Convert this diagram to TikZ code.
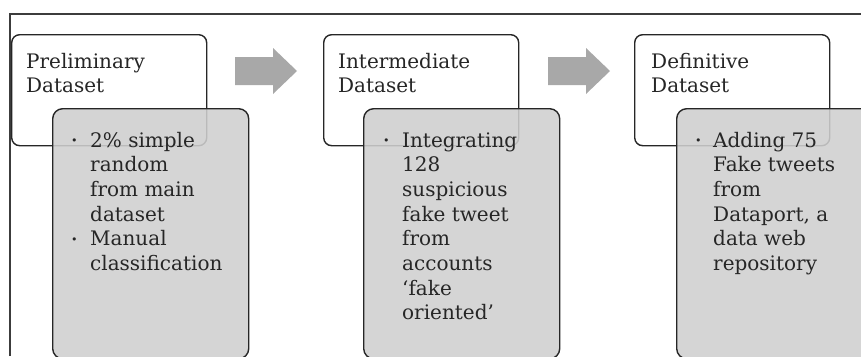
\documentclass[tikz,border=0pt]{standalone}
\usepackage{fontspec}
\setmainfont{DejaVu Serif}
\usepackage{xcolor}
\usepackage{tikz}

\definecolor{boxgray}{HTML}{CFCFCF}
\definecolor{arrowgray}{HTML}{A8A8A8}
\definecolor{framegray}{HTML}{3C3C3C}

\tikzset{
	titlebox/.style = {draw = black!85, line width = 1.4pt, rounded corners = 8pt, fill = white,
		minimum width = 195pt, minimum height = 111pt, anchor = north west, inner sep = 0pt},
	listbox/.style = {draw = black!85, line width = 1.4pt, rounded corners = 10pt, fill = boxgray, fill opacity = 0.88,
		minimum width = 196pt, minimum height = 250pt, anchor = north west, inner sep = 0pt},
	stagearrow/.style = {fill = arrowgray, draw = none},
	boxtext/.style = {anchor = base west, inner sep = 0pt, text = black!85, font = \fontsize{20}{24.7}\selectfont}
}

\newcommand{\itemdot}{\raisebox{0.25ex}{\fontsize{11}{11}\selectfont\textbullet}}

\begin{document}
\begin{tikzpicture}[x = 1pt, y = -1pt]
					\def\xMIN{0};
					\def\xMAX{861};
					\def\yMIN{0};
					\def\yMAX{356};

					\useasboundingbox (\xMIN,\yMIN) rectangle (\xMAX,\yMAX);

					\begin{scope}[draw = framegray, line width = 1.2pt]
						\draw (10,\yMAX) -- (10,14) -- (\xMAX,14);
					\end{scope}

					\begin{scope}
						\node [titlebox] (prelim) at (11,34) {};
						\node [boxtext] (prelimtitle) at ([shift = {(15pt,-34pt)}] prelim.north west)
							{\begin{tabular}[t]{@{}l@{}}Preliminary\\ Dataset\end{tabular}};
						\node [listbox] (prelimlist) at (52,108) {};
						\node [boxtext, text opacity = 1] (prelimitems) at ([shift = {(19pt,-39pt)}] prelimlist.north west)
							{\begin{tabular}[t]{@{}p{19pt}@{}l@{}}
								\itemdot & 2\% simple\\
								& random\\
								& from main\\
								& dataset\\
								\itemdot & Manual\\
								& classification
							\end{tabular}};
					\end{scope}

					\fill [stagearrow] (235,57) -- (273,57) -- (273,48) -- (297,71) -- (273,94) -- (273,85) -- (235,85) -- cycle;

					\begin{scope}
						\node [titlebox] (inter) at (323,34) {};
						\node [boxtext] (intertitle) at ([shift = {(15pt,-34pt)}] inter.north west)
							{\begin{tabular}[t]{@{}l@{}}Intermediate\\ Dataset\end{tabular}};
						\node [listbox] (interlist) at (363,108) {};
						\node [boxtext, text opacity = 1] (interitems) at ([shift = {(20pt,-39pt)}] interlist.north west)
							{\begin{tabular}[t]{@{}p{19pt}@{}l@{}}
								\itemdot & Integrating\\
								& 128\\
								& suspicious\\
								& fake tweet\\
								& from\\
								& accounts\\
								& ‘fake\\
								& oriented’
							\end{tabular}};
					\end{scope}

					\fill [stagearrow] (548,57) -- (586,57) -- (586,48) -- (610,71) -- (586,94) -- (586,85) -- (548,85) -- cycle;

					\begin{scope}
						\node [titlebox] (defin) at (634,34) {};
						\node [boxtext] (defintitle) at ([shift = {(17pt,-34pt)}] defin.north west)
							{\begin{tabular}[t]{@{}l@{}}Definitive\\ Dataset\end{tabular}};
						\node [listbox] (definlist) at (676,108) {};
						\node [boxtext, text opacity = 1] (definitems) at ([shift = {(19pt,-39pt)}] definlist.north west)
							{\begin{tabular}[t]{@{}p{18pt}@{}l@{}}
								\itemdot & Adding 75\\
								& Fake tweets\\
								& from\\
								& Dataport, a\\
								& data web\\
								& repository
							\end{tabular}};
					\end{scope}
				\end{tikzpicture}
\end{document}
